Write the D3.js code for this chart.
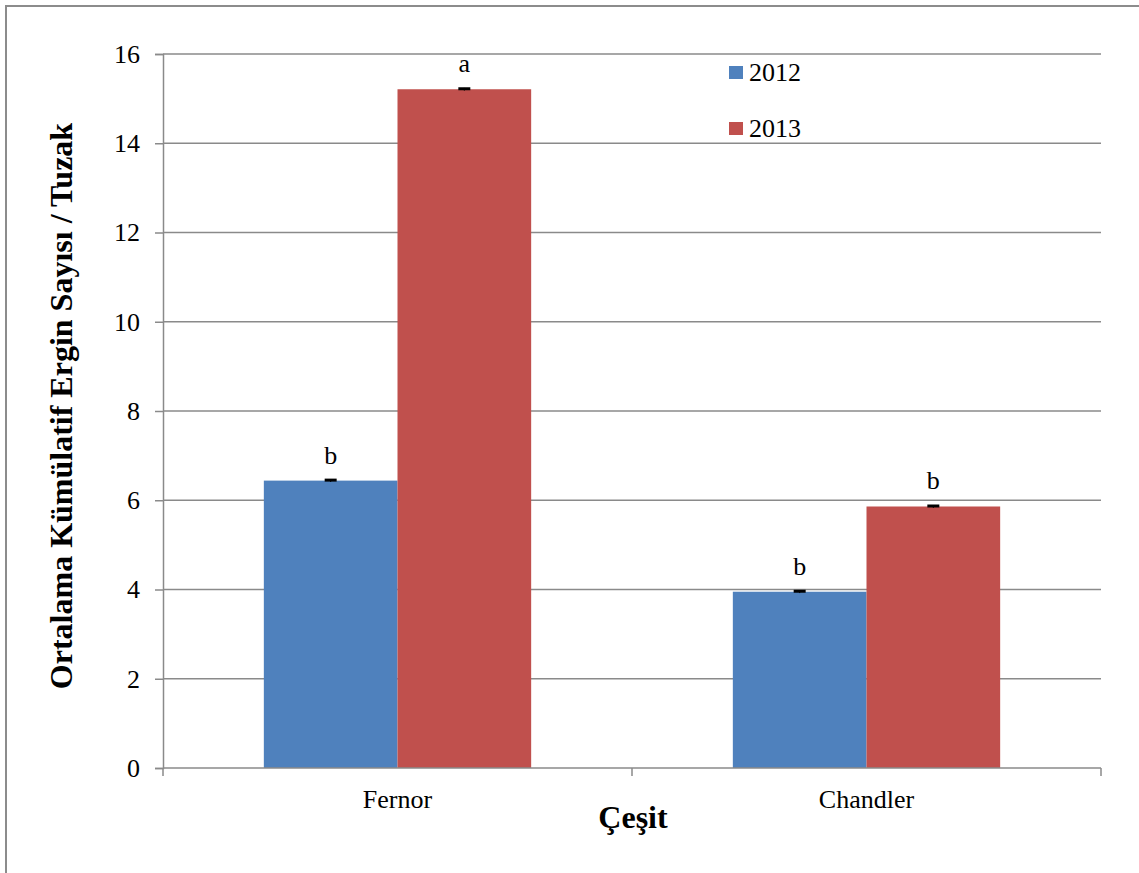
<!DOCTYPE html>
<html>
<head>
<meta charset="utf-8">
<script src="https://cdn.jsdelivr.net/npm/d3@7"></script>
<style>
  html, body { margin: 0; padding: 0; background: #fff; }
  svg { display: block; }
  svg text { font-family: "Liberation Serif", "Times New Roman", serif; }
</style>
</head>
<body>
<svg id="chart" width="1139" height="873"></svg>
<script>
// Cultivars and trap-count means per year
const categories = ["Fernor", "Chandler"];
const years = ["2012", "2013"];
const values2012 = [6.44, 3.95];
const values2013 = [15.21, 5.86];
const errors2012 = [0.03, 0.03];
const errors2013 = [0.03, 0.03];
const letters2012 = ["b", "b"];
const letters2013 = ["a", "b"];
const yTicks = [0, 2, 4, 6, 8, 10, 12, 14, 16];
const colors = ["#4f81bd", "#c0504d"];

const FONT = "Liberation Serif, Times New Roman, serif";

const rows = categories.map((c, i) => ({
  cat: c,
  bars: [
    { year: years[0], v: values2012[i], e: errors2012[i], l: letters2012[i] },
    { year: years[1], v: values2013[i], e: errors2013[i], l: letters2013[i] }
  ]
}));

const svg = d3.select("#chart");
const plotLeft = 163, plotRight = 1101, plotTop = 54, plotBottom = 768;

// outer chart frame
svg.append("rect")
  .attr("x", 6).attr("y", 6).attr("width", 1150).attr("height", 900)
  .attr("fill", "none").attr("stroke", "#8c8c8c").attr("stroke-width", 2);

const y = d3.scaleLinear().domain([0, 16]).range([plotBottom, plotTop]);
const x0 = d3.scaleBand().domain(categories).range([plotLeft, plotRight])
  .paddingInner(0.43).paddingOuter(0.215);
const x1 = d3.scaleBand().domain(years).range([0, x0.bandwidth()]);

// horizontal gridlines
svg.append("g").selectAll("line").data(yTicks.filter(t => t > 0)).join("line")
  .attr("x1", plotLeft).attr("x2", plotRight)
  .attr("y1", d => y(d)).attr("y2", d => y(d))
  .attr("stroke", "#8a8a8a").attr("stroke-width", 1.5);

// y axis
const yAxis = svg.append("g").attr("transform", `translate(${plotLeft},0)`)
  .call(d3.axisLeft(y).tickValues(yTicks).tickSize(8).tickPadding(15).tickFormat(d3.format("d")));
yAxis.attr("font-family", FONT).attr("font-size", 26);
yAxis.select(".domain").attr("stroke", "#8a8a8a").attr("stroke-width", 1.5);
yAxis.selectAll(".tick line").attr("stroke", "#8a8a8a").attr("stroke-width", 1.5);
yAxis.selectAll(".tick text").attr("fill", "#000");

// bars
const groups = svg.append("g").selectAll("g").data(rows).join("g")
  .attr("transform", d => `translate(${x0(d.cat)},0)`);

groups.selectAll("rect").data(d => d.bars).join("rect")
  .attr("x", d => x1(d.year))
  .attr("width", x1.bandwidth())
  .attr("y", d => y(d.v))
  .attr("height", d => y(0) - y(d.v))
  .attr("fill", (d, i) => colors[i]);

// error bars
groups.selectAll("line.err").data(d => d.bars).join("line")
  .attr("class", "err")
  .attr("x1", d => x1(d.year) + x1.bandwidth() / 2 - 6)
  .attr("x2", d => x1(d.year) + x1.bandwidth() / 2 + 6)
  .attr("y1", d => y(d.v) - 0.5).attr("y2", d => y(d.v) - 0.5)
  .attr("stroke", "#000").attr("stroke-width", 3);
groups.selectAll("line.errv").data(d => d.bars).join("line")
  .attr("class", "errv")
  .attr("x1", d => x1(d.year) + x1.bandwidth() / 2)
  .attr("x2", d => x1(d.year) + x1.bandwidth() / 2)
  .attr("y1", d => y(d.v + d.e)).attr("y2", d => y(d.v - d.e))
  .attr("stroke", "#000").attr("stroke-width", 1);

// significance letters
groups.selectAll("text.sig").data(d => d.bars).join("text")
  .attr("class", "sig")
  .attr("x", d => x1(d.year) + x1.bandwidth() / 2)
  .attr("y", d => y(d.v) - 17)
  .attr("text-anchor", "middle")
  .attr("font-family", FONT)
  .attr("font-size", 26).attr("fill", "#000")
  .text(d => d.l);

// x axis baseline with category boundary ticks
svg.append("line").attr("x1", plotLeft).attr("x2", plotRight)
  .attr("y1", plotBottom).attr("y2", plotBottom)
  .attr("stroke", "#8a8a8a").attr("stroke-width", 1.5);
const boundaries = [plotLeft].concat(categories.map(c => x0(c) + x0.bandwidth() + x0.step() * 0.215));
svg.append("g").selectAll("line").data(boundaries).join("line")
  .attr("x1", d => d).attr("x2", d => d)
  .attr("y1", plotBottom).attr("y2", plotBottom + 8)
  .attr("stroke", "#8a8a8a").attr("stroke-width", 1.5);

svg.append("g").selectAll("text").data(categories).join("text")
  .attr("x", d => x0(d) + x0.bandwidth() / 2)
  .attr("y", 808)
  .attr("text-anchor", "middle")
  .attr("font-family", FONT)
  .attr("font-size", 26).attr("fill", "#000")
  .text(d => d);

// axis titles
svg.append("text")
  .attr("x", 633).attr("y", 828)
  .attr("text-anchor", "middle")
  .attr("font-family", FONT)
  .attr("font-size", 32).attr("font-weight", "bold").attr("fill", "#000")
  .text("Çeşit");

svg.append("text")
  .attr("transform", "translate(72,406) rotate(-90)")
  .attr("text-anchor", "middle")
  .attr("font-family", FONT)
  .attr("font-size", 32).attr("font-weight", "bold").attr("fill", "#000")
  .text("Ortalama Kümülatif Ergin Sayısı / Tuzak");

// legend
const legend = svg.append("g").selectAll("g").data(years).join("g")
  .attr("transform", (d, i) => `translate(729,${66 + i * 56})`);
legend.append("rect").attr("width", 14).attr("height", 13)
  .attr("fill", (d, i) => colors[i]);
legend.append("text").attr("x", 20).attr("y", 15)
  .attr("font-family", FONT)
  .attr("font-size", 26).attr("fill", "#000")
  .text(d => d);
</script>
</body>
</html>
